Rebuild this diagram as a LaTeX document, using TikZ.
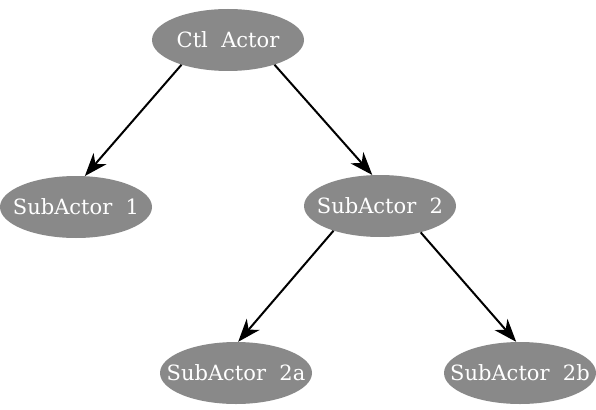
\documentclass[tikz,border=0pt]{standalone}
\usepackage{fontspec}
\setmainfont{DejaVu Serif}
\usepackage{tikz}
\usetikzlibrary{arrows.meta,shapes.geometric}
\definecolor{actgray}{HTML}{898989}
\tikzset{
  >={Stealth[length=23pt,width=17pt,inset=7pt]},
  % aktörer
  act/.style={ellipse,fill=actgray,draw=none,inner xsep=-30pt,inner ysep=0pt,
              minimum width=152pt,minimum height=62pt,text=white,
              font=\fontsize{21}{24}\selectfont},
  ae/.style={->,draw=black,line width=2pt},
}
\begin{document}
\begin{tikzpicture}[x=1pt,y=-1pt]
  \useasboundingbox (0,0) rectangle (596,409);
  \node[act] (ctl) at (228,40) {Ctl\ \ Actor};
  \node[act] (s1) at (76,207) {SubActor\ \ 1};
  \node[act] (s2) at (380,206) {SubActor\ \ 2};
  \node[act] (s2a) at (236,373) {SubActor\ \ 2a};
  \node[act] (s2b) at (520,373) {SubActor\ \ 2b};
  \draw[ae] (ctl.208) -- (s1.74);
  \draw[ae] (ctl.332) -- (s2.104);
  \draw[ae] (s2.208) -- (s2a.86);
  \draw[ae] (s2.327) -- (s2b.97);
\end{tikzpicture}
\end{document}
